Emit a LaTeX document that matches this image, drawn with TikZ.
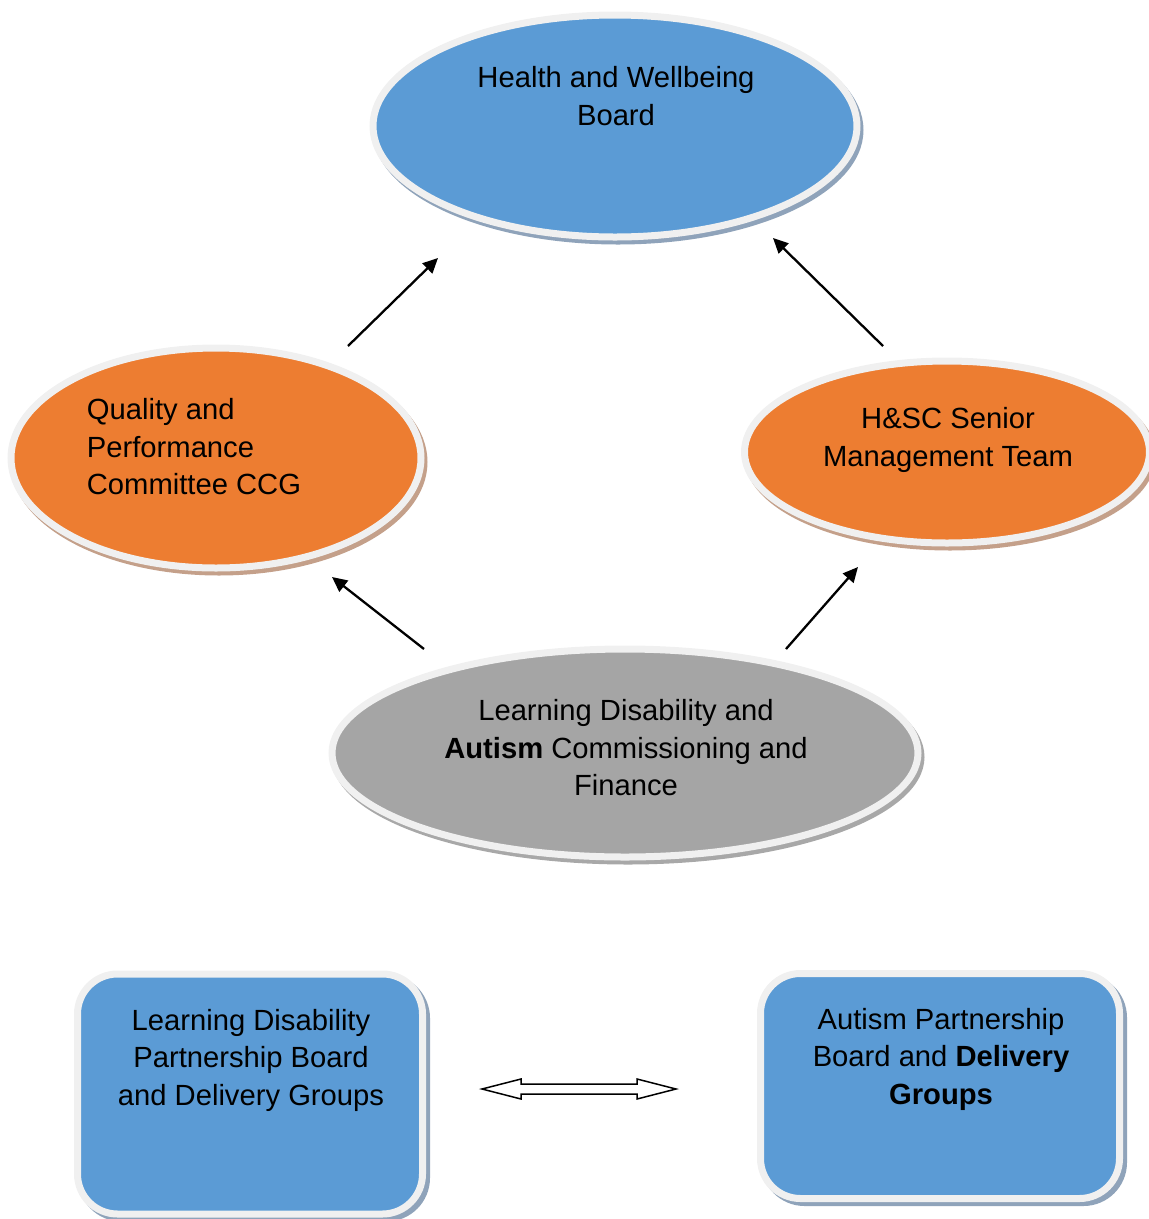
\documentclass[tikz,border=0pt]{standalone}
\usepackage{fontspec}
\setmainfont{Liberation Sans}
\usetikzlibrary{arrows.meta,shapes.geometric}
\definecolor{cblue}{HTML}{5B9BD5}
\definecolor{corange}{HTML}{ED7D31}
\definecolor{cgray}{HTML}{A5A5A5}
\definecolor{rim}{HTML}{F0F0F0}
\definecolor{shblue}{HTML}{8FA3BA}
\definecolor{shorange}{HTML}{C4A08A}
\definecolor{shgray}{HTML}{A8A8A8}
\tikzset{
  ell/.style={ellipse, draw=rim, line width=7pt, inner sep=0pt},
  rbox/.style={rectangle, rounded corners=40pt, draw=rim, line width=7pt, inner sep=0pt},
  lbl/.style={font=\fontsize{29.2}{37.5}\selectfont, align=center, inner sep=0pt},
  arr/.style={line width=2.3pt, -{Triangle[length=15pt,width=14pt]}},
}
\begin{document}
\begin{tikzpicture}[x=1pt,y=-1pt]
\useasboundingbox (0,0) rectangle (1149,1219);
% shadows
\node[ell, draw=shblue, fill=shblue, minimum width=484pt, minimum height=222pt] (hwbS) at (618,130) {};
\node[ell, draw=shorange, fill=shorange, minimum width=410pt, minimum height=220pt] (qpS) at (219,462) {};
\node[ell, draw=shorange, fill=shorange, minimum width=405pt, minimum height=182pt] (hscS) at (950,456) {};
\node[ell, draw=shgray, fill=shgray, minimum width=586pt, minimum height=208pt] (ldaS) at (628,757) {};
\node[rbox, draw=shblue, fill=shblue, minimum width=345pt, minimum height=240pt] (ldpS) at (254,1098) {};
\node[rbox, draw=shblue, fill=shblue, minimum width=359pt, minimum height=225pt] (apbS) at (944,1090) {};
% shapes
\node[ell, fill=cblue, minimum width=484pt, minimum height=222pt] (hwb) at (615,126) {};
\node[ell, fill=corange, minimum width=410pt, minimum height=220pt] (qp) at (216,458) {};
\node[ell, fill=corange, minimum width=405pt, minimum height=182pt] (hsc) at (947,452) {};
\node[ell, fill=cgray, minimum width=586pt, minimum height=208pt] (lda) at (625,753) {};
\node[rbox, fill=cblue, minimum width=345pt, minimum height=240pt] (ldp) at (250,1094) {};
\node[rbox, fill=cblue, minimum width=359pt, minimum height=225pt] (apb) at (940,1086) {};
% texts
\node[lbl] (hwbT) at (616,96) {Health and Wellbeing\\Board};
\node[lbl, align=left] (qpT) at (194,447) {Quality and\\Performance\\Committee CCG};
\node[lbl] (hscT) at (948,440) {H\&SC Senior\\Management Team};
\node[lbl] (ldaT) at (626,748) {Learning Disability and\\\textbf{Autism} Commissioning and\\Finance};
\node[lbl] (ldpT) at (251,1060) {Learning Disability\\Partnership Board\\and Delivery Groups};
\node[lbl] (apbT) at (941,1059) {Autism Partnership\\Board and \textbf{Delivery}\\\textbf{Groups}};
% arrows
\coordinate (a1s) at (348,346); \coordinate (a1e) at (438,258);
\coordinate (a2s) at (883,346); \coordinate (a2e) at (773,238);
\coordinate (a3s) at (424,649); \coordinate (a3e) at (332,577);
\coordinate (a4s) at (786,649); \coordinate (a4e) at (858,567);
\draw[arr] (a1s) -- (a1e);
\draw[arr] (a2s) -- (a2e);
\draw[arr] (a3s) -- (a3e);
\draw[arr] (a4s) -- (a4e);
% double arrow
\coordinate (da) at (579,1089);
\draw[line width=1.5pt, fill=white] ([shift={(-97,0)}]da) -- ([shift={(-58,-10)}]da) -- ([shift={(-58,-5)}]da) -- ([shift={(58,-5)}]da) -- ([shift={(58,-10)}]da) -- ([shift={(97,0)}]da) -- ([shift={(58,10)}]da) -- ([shift={(58,5)}]da) -- ([shift={(-58,5)}]da) -- ([shift={(-58,10)}]da) -- cycle;
\end{tikzpicture}
\end{document}
